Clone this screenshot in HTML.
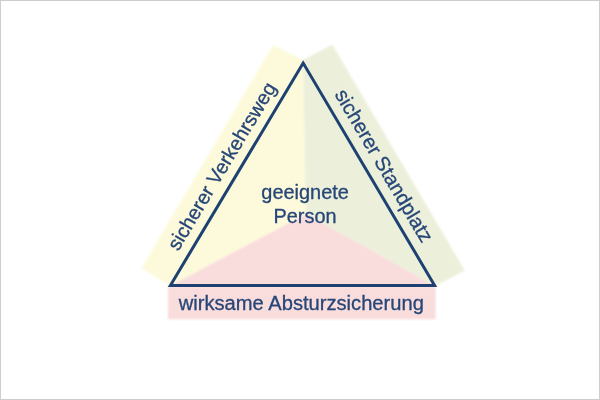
<!DOCTYPE html>
<html><head><meta charset="utf-8">
<style>
html,body{margin:0;padding:0;background:#fff;}
body{width:600px;height:400px;overflow:hidden;position:relative;}
.frame{position:absolute;left:0;top:0;width:598px;height:398px;border:1px solid #cdcdcd;}
svg{position:absolute;left:0;top:0;filter:blur(0.35px);}
text{font-family:"Liberation Sans",sans-serif;fill:#264677;stroke:#264677;stroke-width:0.3px;}
</style></head><body>
<div class="frame"></div>
<svg width="600" height="400" viewBox="0 0 600 400">
  <defs><filter id="bb" x="-10%" y="-10%" width="120%" height="120%"><feGaussianBlur stdDeviation="1.0"/></filter></defs>
  <g filter="url(#bb)">
  <polygon points="273,45 303,60 306,214 170,286 141.5,268" fill="#fdfadb"/>
  <polygon points="332.3,44.6 464.8,270.6 435,286 306,214 303,60" fill="#ecf0da"/>
  <polygon points="170,286 306,214 435,286" fill="#f9dcdc"/>
  <rect x="168" y="286.5" width="267.5" height="32.8" fill="#f9dcdc"/>
  </g>
  <polygon points="303.2,63.1 170.4,285.4 434.6,285.4" fill="none" stroke="#1d4272" stroke-width="3" stroke-linejoin="miter"/>
  <text x="305.1" y="199.4" font-size="19.95" text-anchor="middle">geeignete</text>
  <text x="305" y="223" font-size="19.9" text-anchor="middle">Person</text>
  <text x="301.3" y="309.5" font-size="20.15" text-anchor="middle">wirksame Absturzsicherung</text>
  <text transform="translate(227.6,169.7) rotate(-59)" font-size="19.95" text-anchor="middle">sicherer Verkehrsweg</text>
  <text transform="translate(378.1,169.15) rotate(59.6)" font-size="20.3" text-anchor="middle">sicherer Standplatz</text>
</svg>
</body></html>
